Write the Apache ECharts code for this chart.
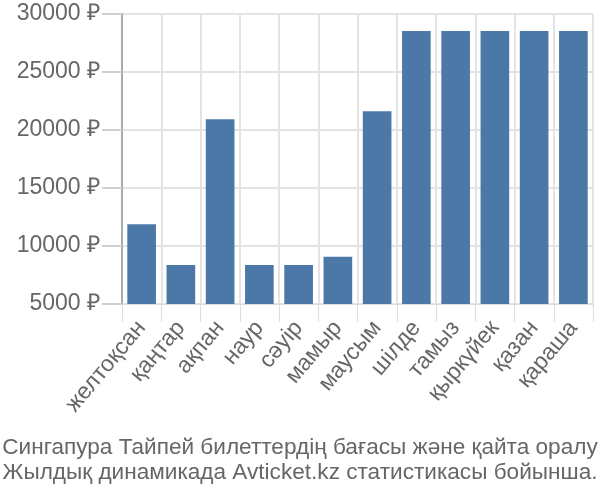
<!DOCTYPE html>
<html><head><meta charset="utf-8">
<script src="https://cdn.jsdelivr.net/npm/echarts@6/dist/echarts.min.js"></script>
<style>html,body{margin:0;padding:0;background:#fff}#c{width:600px;height:500px}</style>
</head><body><div id="c"></div>
<script>
const categories = ['желтоқсан','қаңтар','ақпан','наур','сәуір','мамыр','маусым','шілде','тамыз','қыркүйек','қазан','қараша'];
const prices = [11870, 8360, 20920, 8360, 8360, 9080, 21610, 28530, 28530, 28530, 28530, 28530];
const yTicks = { min: 5000, max: 30000, interval: 5000 };
const titleLines = ['Сингапура Тайпей билеттердің бағасы және қайта оралу','Жылдық динамикада Avticket.kz статистикасы бойынша.'];

const chart = echarts.init(document.getElementById('c'), null, {renderer:'canvas'});
const font = 'Liberation Sans, Arial, sans-serif';
chart.setOption({
  animation: false,
  backgroundColor: '#fff',
  title: {
    text: titleLines.join('\n'),
    left: 'center', top: 430,
    textStyle: { fontFamily: font, fontSize: 22.6, fontWeight: 'normal', color: '#666', lineHeight: 25 }
  },
  grid: { left: 122, right: 7, top: 14, bottom: 196, containLabel: false },
  xAxis: {
    type: 'category', data: categories,
    axisLine: { show: true, lineStyle: { color: '#ddd', width: 1 } },
    axisTick: { show: true, length: 18, lineStyle: { color: '#ddd' } },
    splitLine: { show: true, lineStyle: { color: '#e3e3e3', width: 2 } },
    axisLabel: { rotate: 50, fontFamily: font, fontSize: 23, color: '#666', margin: 20, interval: 0 }
  },
  yAxis: {
    type: 'value', min: yTicks.min, max: yTicks.max, interval: yTicks.interval,
    axisLine: { show: true, lineStyle: { color: '#aaa', width: 2 } },
    axisTick: { show: true, inside: false, length: 20, lineStyle: { color: '#d0d0d0', width: 2 } },
    splitLine: { show: true, lineStyle: { color: '#e3e3e3', width: 2 } },
    axisLabel: { fontFamily: font, fontSize: 23, color: '#666', margin: 22, formatter: v => v + ' ₽' }
  },
  series: [{
    type: 'bar', data: prices, barCategoryGap: '27%',
    itemStyle: { color: '#4c78a8' }
  }]
});
</script></body></html>
